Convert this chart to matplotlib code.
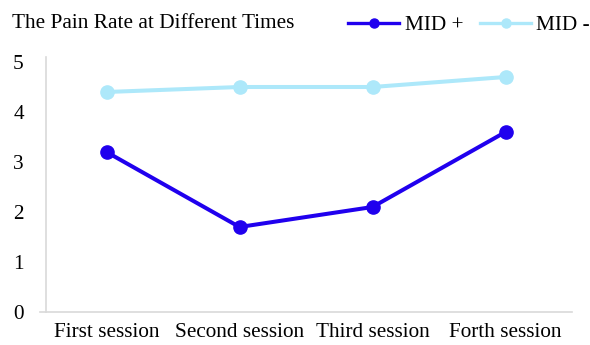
import matplotlib.pyplot as plt
from matplotlib.lines import Line2D

plt.rcParams['font.family'] = ['Liberation Serif', 'DejaVu Serif']

# Data
sessions = ['First session', 'Second session', 'Third session', 'Forth session']
mid_plus = [3.2, 1.7, 2.1, 3.6]
mid_minus = [4.4, 4.5, 4.5, 4.7]

dark_blue = '#2000EE'
light_blue = '#ADE8FA'
grey = '#D9D9D9'

fig = plt.figure(figsize=(5.9, 3.45), dpi=100)
ax = fig.add_axes([40 / 590, 33 / 345, 532 / 590, 255 / 345])

x = list(range(len(sessions)))
ax.plot(x, mid_minus, color=light_blue, lw=2.9, marker='o', ms=9.5, label='MID -')
ax.plot(x, mid_plus, color=dark_blue, lw=2.9, marker='o', ms=9.5, label='MID +')

ax.set_xlim(-0.5, 3.5)
ax.set_ylim(0, 5.1)
ax.set_yticks([0, 1, 2, 3, 4, 5])
ax.set_xticks(x)
ax.set_xticklabels(sessions)

for side in ['top', 'right']:
    ax.spines[side].set_visible(False)
ax.spines['left'].set_position(('data', -0.455))
ax.spines['left'].set_color(grey)
ax.spines['bottom'].set_color(grey)
ax.spines['left'].set_linewidth(1.2)
ax.spines['bottom'].set_linewidth(1.2)

ax.tick_params(axis='y', length=0, pad=16, labelsize=15.3, colors='black')
ax.tick_params(axis='x', length=0, pad=8, labelsize=15.3, colors='black')

fig.text(12 / 590, 1 - 23 / 345, 'The Pain Rate at Different Times',
         fontsize=15.3, va='center', ha='left')

handles = [Line2D([], [], color=dark_blue, lw=2.4, marker='o', ms=6.5),
           Line2D([], [], color=light_blue, lw=2.4, marker='o', ms=6.5)]
fig.legend(handles, ['MID +', 'MID -'], loc='center right',
           bbox_to_anchor=(1.0, 1 - 25 / 345), ncol=2, frameon=False,
           fontsize=15.3, handlelength=2.4, handletextpad=0.25,
           columnspacing=0.8, borderaxespad=0, borderpad=0)

fig.savefig('out.png', dpi=100)
